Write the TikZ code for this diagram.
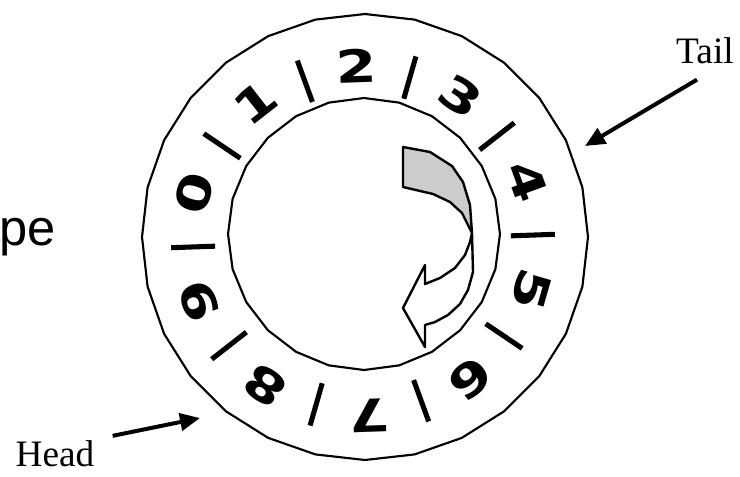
\documentclass[tikz,border=0pt]{standalone}
\usepackage{graphicx}
\usepackage{fontspec}
\setmainfont{Liberation Serif}
\newfontfamily\slidefont{Liberation Sans}
\newfontfamily\dialfont{DejaVu Sans}
\usetikzlibrary{arrows.meta}

\begin{document}
\begin{tikzpicture}[x=0.75pt, y=-0.75pt,
  ring/.style={draw, line width=1.6pt},
  digit/.style={font=\dialfont\bfseries\fontsize{34}{34}\selectfont, inner sep=0pt},
  divider/.style={line width=3.8pt},
  ribbon/.style={draw, line width=1.8pt, line join=round},
  pointer/.style={-{Triangle[length=15pt, width=13pt]}, line width=3pt},
  sidetext/.style={font=\fontsize{28}{28}\selectfont, inner sep=0pt, anchor=base}
]
  \useasboundingbox (0,0) rectangle (740,476);

  % tape wheel
  \draw[ring] plot[samples=29, domain=0:360, variable=\t] ({365+223*cos(\t)},{237+223*sin(\t)}) -- cycle;
  \draw[ring] plot[samples=25, domain=0:360, variable=\t] ({364+136*cos(\t)},{234+136*sin(\t)}) -- cycle;

  \foreach \k in {0,...,9} {
    \pgfmathsetmacro\a{164-36*\k}
    \node[digit, rotate=\a-90] (d\k) at ({363+175*cos(\a)},{241-175*sin(\a)}) {\scalebox{1.3}[1]{\k}};
    \pgfmathsetmacro\b{146-36*\k}
    \draw[divider] ({363+148*cos(\b)},{241-148*sin(\b)}) -- ({363+192*cos(\b)},{241-192*sin(\b)});
  }

  % turning arrow: back side, then front side
  \draw[ribbon, fill=black!20] (403,147) -- (430,152) -- (452,166) -- (463,182) -- (470,205) -- (472,233)
    -- (462,213) -- (450,202) -- (433,194) -- (403,187) -- cycle;
  \draw[ribbon, fill=white] (472,233) -- (473,272) -- (468,290) -- (460,304) -- (448,315) -- (435,322)
    -- (425,325) -- (425,347) -- (403,308) -- (425,265) -- (425,284) -- (440,278) -- (455,268)
    -- (465,255) -- (470,242) -- cycle;

  \node[font=\slidefont\fontsize{38}{38}\selectfont, inner sep=0pt, anchor=base west] (tape) at (-1,245) {pe};

  \node[sidetext] (tail) at (705,63) {Tail};
  \node[sidetext] (head) at (55,466) {Head};
  \coordinate (tailtip) at (585,146);
  \coordinate (headtip) at (200,418);

  \draw[pointer] (tail.south) ++(-8,16) -- (tailtip);
  \draw[pointer] (head.north east) ++(18,-4) -- (headtip);
\end{tikzpicture}
\end{document}
